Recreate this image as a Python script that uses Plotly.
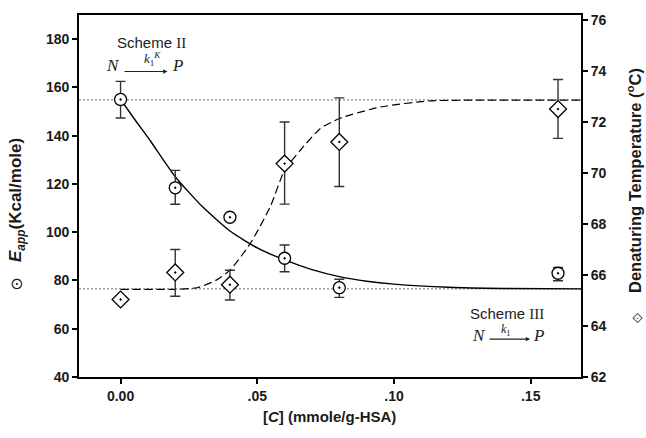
import plotly.graph_objects as go

# ---- data ----
conc = [0.0, 0.02, 0.04, 0.06, 0.08, 0.16]
e_app = [155.0, 118.4, 106.2, 89.2, 77.0, 83.0]
e_app_err_plus = [7.5, 7.2, 0.0, 5.5, 3.5, 2.4]
e_app_err_minus = [7.7, 6.8, 0.0, 5.6, 4.0, 3.1]

temp = [65.04, 66.1, 65.62, 70.37, 71.22, 72.51]
temp_err_plus = [0.0, 0.9, 0.57, 1.63, 1.73, 1.16]
temp_err_minus = [0.0, 0.93, 0.6, 1.59, 1.75, 1.15]

fit_e_x = [0.0, 0.005, 0.0108, 0.02, 0.03, 0.04, 0.05, 0.06, 0.07, 0.08, 0.09, 0.10, 0.12, 0.14, 0.1684]
fit_e_y = [155.0, 147.0, 138.0, 123.0, 110.5, 100.5, 93.5, 88.5, 84.5, 81.6, 79.7, 78.5, 77.2, 76.7, 76.5]

fit_t_x = [0.0, 0.02, 0.028, 0.035, 0.04, 0.0474, 0.0547, 0.06, 0.0657, 0.073, 0.08, 0.095, 0.113, 0.13, 0.1684]
fit_t_y = [65.44, 65.44, 65.5, 65.8, 66.19, 67.23, 68.67, 70.11, 70.89, 71.74, 72.14, 72.59, 72.83, 72.86, 72.86]

plateau_x = [-0.0152, 0.1684]
plateau_levels = [154.8, 76.5]

x_tick_vals = [0.0, 0.05, 0.10, 0.15]
x_tick_text = ["0.00", ".05", ".10", ".15"]
left_ticks = [40, 60, 80, 100, 120, 140, 160, 180]
right_ticks = [62, 64, 66, 68, 70, 72, 74, 76]

FONT = "Liberation Sans, Arial, sans-serif"
SERIF = "Liberation Serif, Times New Roman, serif"

fig = go.Figure()

for lvl in plateau_levels:
    fig.add_trace(go.Scatter(x=plateau_x, y=[lvl, lvl], mode="lines",
                             line=dict(color="#8a8a8a", width=1.2, dash="2px,2px"),
                             hoverinfo="skip", showlegend=False))

fig.add_trace(go.Scatter(x=fit_e_x, y=fit_e_y, mode="lines",
                         line=dict(color="black", width=1.4, shape="spline", smoothing=0.6),
                         showlegend=False))
fig.add_trace(go.Scatter(x=fit_t_x, y=fit_t_y, mode="lines", yaxis="y2",
                         line=dict(color="black", width=1.2, dash="8px,4px", shape="spline", smoothing=0.6),
                         showlegend=False))

fig.add_trace(go.Scatter(x=conc, y=e_app, mode="markers",
                         error_y=dict(type="data", array=e_app_err_plus, arrayminus=e_app_err_minus,
                                      color="#333333", thickness=1.4, width=5),
                         marker=dict(symbol="circle-dot", size=12, color="white",
                                     line=dict(color="black", width=1.3)),
                         showlegend=False))
fig.add_trace(go.Scatter(x=conc, y=temp, mode="markers", yaxis="y2",
                         error_y=dict(type="data", array=temp_err_plus, arrayminus=temp_err_minus,
                                      color="#333333", thickness=1.4, width=5),
                         marker=dict(symbol="diamond-dot", size=13, color="white",
                                     line=dict(color="black", width=1.3)),
                         showlegend=False))

axis_common = dict(showline=True, linecolor="black", linewidth=1.8, ticks="outside",
                   ticklen=5, tickwidth=1.5, tickcolor="black", showgrid=False, zeroline=False,
                   automargin=False,
                   tickfont=dict(family=FONT, size=14, color="#1a1a1a", weight="bold"))

fig.update_layout(
    width=646, height=438,
    margin=dict(l=79, r=65, t=15, b=61),
    paper_bgcolor="white", plot_bgcolor="white",
    xaxis=dict(range=[-0.0152, 0.1684], tickvals=x_tick_vals, ticktext=x_tick_text,
               mirror=True, **axis_common),
    yaxis=dict(range=[40, 190], tickvals=left_ticks, mirror=False, **axis_common),
    yaxis2=dict(range=[62, 76.2], tickvals=right_ticks, overlaying="y", side="right",
                **axis_common),
)

C = dict(xanchor="center", yanchor="middle", showarrow=False)
ann = []
# axis titles
ann.append(dict(text="<b><i>E</i><sub><i>app</i></sub>(Kcal/mole)</b>", textangle=-90,
                xref="paper", yref="paper", x=(17 - 79) / 502, y=(377 - 200) / 362,
                font=dict(family=FONT, size=17, color="#1a1a1a"), **C))
ann.append(dict(text="⊙", xref="paper", yref="paper", x=(16 - 79) / 502, y=(377 - 283) / 362,
                font=dict(family="DejaVu Sans", size=16, color="#1a1a1a"), **C))
ann.append(dict(text="<b>Denaturing Temperature (<sup>o</sup>C)</b>", textangle=-90,
                xref="paper", yref="paper", x=(634 - 79) / 502, y=(377 - 181) / 362,
                font=dict(family=FONT, size=16.5, color="#1a1a1a"), **C))
ann.append(dict(text="⟐", xref="paper", yref="paper", x=(637 - 79) / 502, y=(377 - 318) / 362,
                font=dict(family="DejaVu Sans", size=14, color="#1a1a1a"), **C))
ann.append(dict(text="<b>[<i>C</i>] (mmole/g-HSA)</b>", xref="paper", yref="paper",
                x=(329 - 79) / 502, y=(377 - 416) / 362,
                font=dict(family=FONT, size=15, color="#1a1a1a"), **C))

ROMAN = '<span style="font-family:Liberation Serif">{}</span>'
# Scheme II
ann.append(dict(text="Scheme " + ROMAN.format("II"), x=0.0112, y=178.4,
                font=dict(family=FONT, size=15, color="#222"), **C))
ann.append(dict(text="<i>N</i>", x=-0.0027, y=168.9,
                font=dict(family=SERIF, size=17, color="#222"), **C))
ann.append(dict(text="<i>P</i>", x=0.0210, y=168.9,
                font=dict(family=SERIF, size=17, color="#222"), **C))
ann.append(dict(text="<i>k</i><sub>1</sub><sup><i>K</i></sup>", x=0.0115, y=171.8,
                font=dict(family=SERIF, size=13, color="#222"), **C))
ann.append(dict(text="", x=0.0172, y=166.6, ax=0.0009, ay=166.6, axref="x", ayref="y",
                showarrow=True, arrowhead=2, arrowsize=0.8, arrowwidth=1.1, arrowcolor="#222"))
# Scheme III
ann.append(dict(text="Scheme " + ROMAN.format("III"), x=0.1414, y=66.3,
                font=dict(family=FONT, size=15, color="#222"), **C))
ann.append(dict(text="<i>N</i>", x=0.1310, y=57.0,
                font=dict(family=SERIF, size=17, color="#222"), **C))
ann.append(dict(text="<i>P</i>", x=0.1527, y=57.0,
                font=dict(family=SERIF, size=17, color="#222"), **C))
ann.append(dict(text="<i>k</i><sub>1</sub>", x=0.1410, y=59.4,
                font=dict(family=SERIF, size=12, color="#222"), **C))
ann.append(dict(text="", x=0.1498, y=55.7, ax=0.1344, ay=55.7, axref="x", ayref="y",
                showarrow=True, arrowhead=2, arrowsize=0.8, arrowwidth=1.1, arrowcolor="#222"))
fig.update_layout(annotations=ann)

fig.write_html("out.html", config={"displayModeBar": False},
               post_script="document.body.style.margin='0';document.body.style.padding='0';")
